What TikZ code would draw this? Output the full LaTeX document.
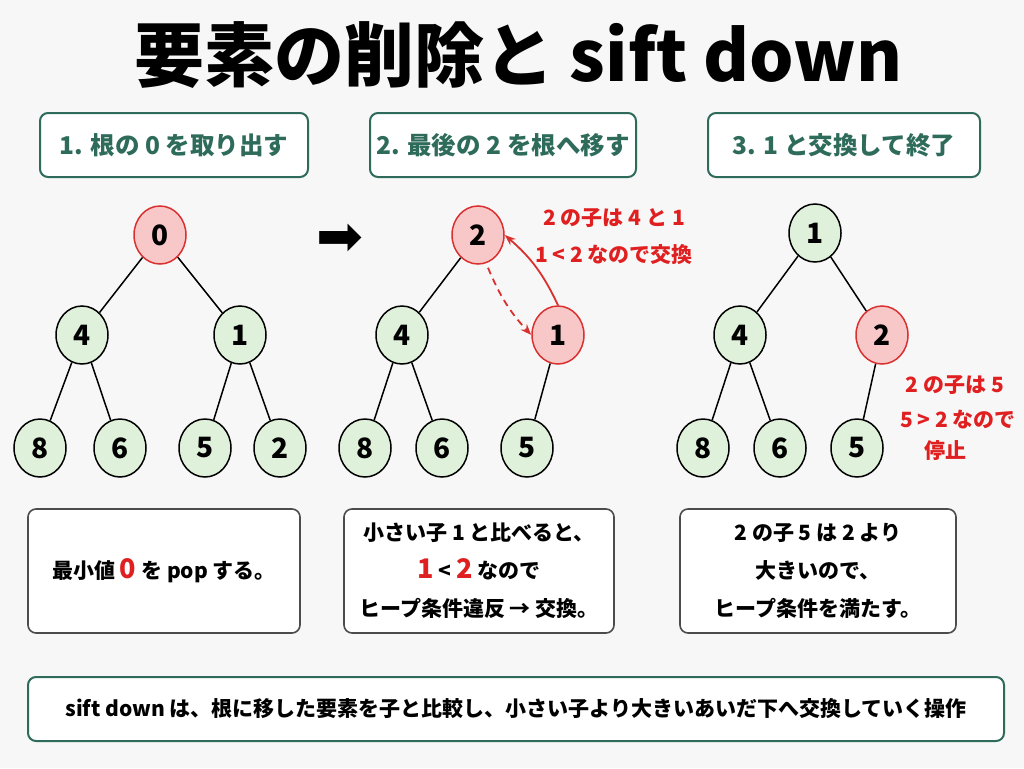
\documentclass[tikz,border=0pt]{standalone}
\usepackage{fontspec}
\setmainfont{Noto Sans CJK JP}
\usetikzlibrary{shapes.geometric,arrows.meta}
\definecolor{hgreen}{HTML}{2E6B5A}
\definecolor{nfill}{HTML}{DFF1DA}
\definecolor{rfill}{HTML}{F8C8C8}
\definecolor{rline}{HTML}{D93030}
\definecolor{ttred}{HTML}{E02020}
\begin{document}
\begin{tikzpicture}[x=1pt,y=-1pt,
    heapnode/.style ={ellipse, draw, line width=1.5pt, fill=nfill, inner sep=0pt, minimum width=52pt, minimum height=58pt, font=\fontsize{28}{30}\selectfont\bfseries},
    rednode/.style ={heapnode, draw=rline, fill=rfill},
    headbox/.style ={draw=hgreen, line width=2pt, rounded corners=8pt, fill=white, text=hgreen, font=\fontsize{24.5}{28}\selectfont\bfseries},
    notebox/.style ={draw=black!70, line width=1.6pt, rounded corners=8pt, fill=white, align=center, font=\fontsize{21}{38}\selectfont\bfseries},
    redtext/.style ={text=ttred, font=\fontsize{21}{24}\selectfont\bfseries},
    edge/.style ={line width=1.5pt}]
   \fill[black!3] (0,0) rectangle (1024,768);
   \useasboundingbox (0,0) rectangle (1024,768);
   \node (title) at (518,55) {\fontsize{70}{74}\selectfont\bfseries 要素の削除と sift down};

   % headers
   \node[headbox, minimum width=268pt, minimum height=64pt] (h1) at (174,145) {1. 根の 0 を取り出す};
   \node[headbox, minimum width=266pt, minimum height=64pt] (h2) at (503,145) {2. 最後の 2 を根へ移す};
   \node[headbox, minimum width=272pt, minimum height=64pt] (h3) at (844,145) {3. 1 と交換して終了};

   % tree 1
   \node[rednode] (a0) at (160,235) {0};
   \node[heapnode] (a4) at (82,335) {4};
   \node[heapnode] (a1) at (240,335) {1};
   \node[heapnode] (a8) at (40,448) {8};
   \node[heapnode] (a6) at (120,448) {6};
   \node[heapnode] (a5) at (205,448) {5};
   \node[heapnode] (a2) at (280,448) {2};
   \draw[edge] (a0) to (a4);
   \draw[edge] (a0) to (a1);
   \draw[edge] (a4) to (a8);
   \draw[edge] (a4) to (a6);
   \draw[edge] (a1) to (a5);
   \draw[edge] (a1) to (a2);

   \node (arr) at (340,240) {\fontsize{56}{58}\selectfont\fontspec{DejaVu Sans}➡};

   % tree 2
   \node[rednode] (b2) at (478,235) {2};
   \node[heapnode] (b4) at (402,335) {4};
   \node[rednode] (b1) at (558,335) {1};
   \node[heapnode] (b8) at (365,448) {8};
   \node[heapnode] (b6) at (442,448) {6};
   \node[heapnode] (b5) at (527,448) {5};
   \draw[edge] (b2) to (b4);
   \draw[edge] (b4) to (b8);
   \draw[edge] (b4) to (b6);
   \draw[edge] (b1) to (b5);
   \draw[line width=1.8pt, rline, dash pattern=on 7pt off 5pt, -{Stealth[length=11pt]}] (b2.south) ++(10,3) to[bend right=10] (b1.west);
   \draw[line width=1.8pt, rline, -{Stealth[length=11pt]}] (b1.north) to[bend right=12] (b2.east);
   \node[redtext] (c1) at (614,218) {2 の子は 4 と 1};
   \node[redtext] (c2) at (614,255) {1 < 2 なので交換};

   % tree 3
   \node[heapnode] (d1) at (815,233) {1};
   \node[heapnode] (d4) at (740,335) {4};
   \node[rednode] (d2) at (882,335) {2};
   \node[heapnode] (d8) at (703,448) {8};
   \node[heapnode] (d6) at (780,448) {6};
   \node[heapnode] (d5) at (857,448) {5};
   \draw[edge] (d1) to (d4);
   \draw[edge] (d1) to (d2);
   \draw[edge] (d4) to (d8);
   \draw[edge] (d4) to (d6);
   \draw[edge] (d2) to (d5);
   \node[redtext] (e1) at (955,385) {2 の子は 5};
   \node[redtext] (e2) at (958,420) {5 > 2 なので};
   \node[redtext] (e3) at (945,451) {停止};

   % notes
   \node[notebox, minimum width=272pt, minimum height=124pt] (n1) at (164,571) {最小値 {\color{ttred}\fontsize{27}{28}\selectfont 0} を pop する。};
   \node[notebox, minimum width=270pt, minimum height=124pt] (n2) at (479,571) {小さい子 1 と比べると、\\{\color{ttred}\fontsize{27}{28}\selectfont 1} < {\color{ttred}\fontsize{27}{28}\selectfont 2} なので\\ヒープ条件違反 → 交換。};
   \node[notebox, minimum width=276pt, minimum height=124pt] (n3) at (818,571) {2 の子 5 は 2 より\\大きいので、\\ヒープ条件を満たす。};

   % footer
   \node[headbox, text=black, minimum width=976pt, minimum height=64pt, font=\fontsize{21}{24}\selectfont\bfseries] (foot) at (516,709) {sift down は、根に移した要素を子と比較し、小さい子より大きいあいだ下へ交換していく操作};
 \end{tikzpicture}
\end{document}
